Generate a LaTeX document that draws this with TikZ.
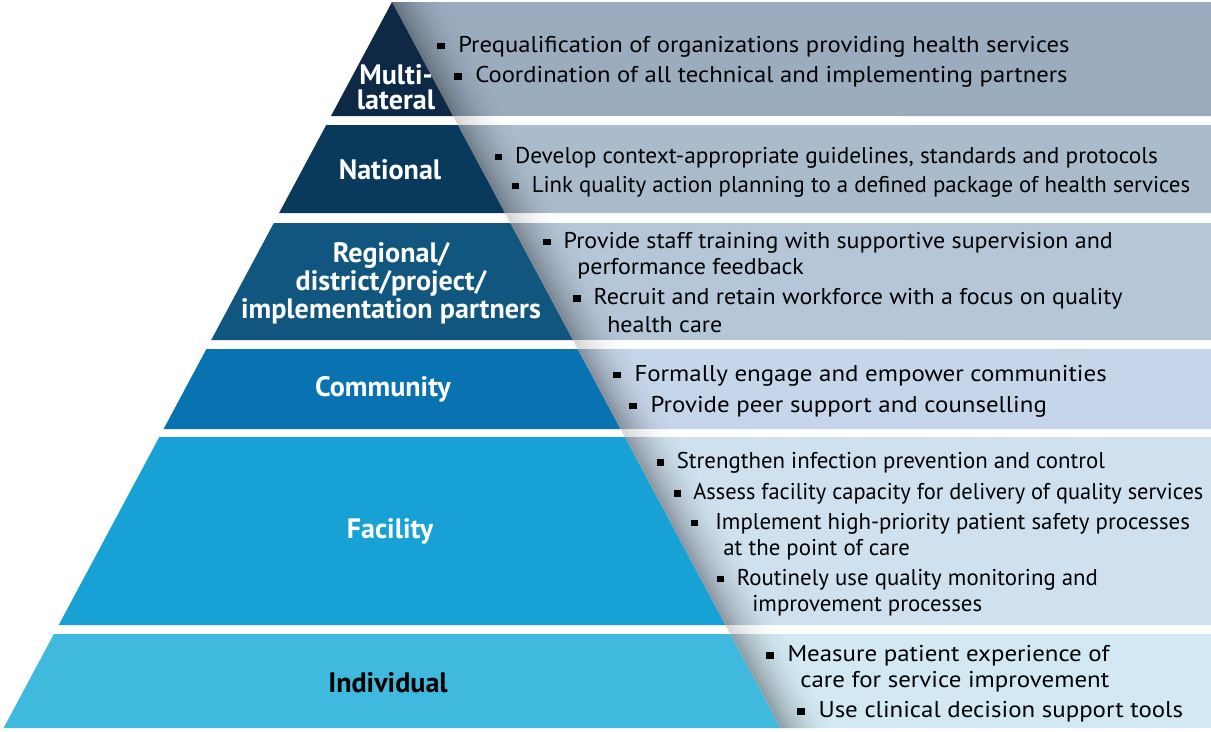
\documentclass[tikz,border=0pt]{standalone}
\usepackage{fontspec}
\usepackage{graphicx}
\setmainfont{PT Sans}
\usetikzlibrary{calc}

\definecolor{bandA}{RGB}{13,41,69}
\definecolor{bandB}{RGB}{9,58,92}
\definecolor{bandC}{RGB}{16,86,127}
\definecolor{bandD}{RGB}{8,115,176}
\definecolor{bandE}{RGB}{23,161,213}
\definecolor{bandF}{RGB}{64,185,222}
\definecolor{paneA}{RGB}{154,172,190}
\definecolor{paneB}{RGB}{170,187,204}
\definecolor{paneC}{RGB}{181,198,216}
\definecolor{paneD}{RGB}{198,214,234}
\definecolor{paneE}{RGB}{207,225,239}
\definecolor{paneF}{RGB}{210,233,243}

\newcommand{\sqb}{\rule[0.14em]{0.3em}{0.3em}\hspace{0.55em}}
% horizontally stretched line of text
\newcommand{\wline}[2]{\scalebox{#1}[1]{#2}}

\begin{document}
\begin{tikzpicture}[x=0.02cm,y=-0.02cm,
  lab/.style={font=\bfseries\fontsize{16}{16}\selectfont, text=white, align=center, inner sep=0pt},
  item/.style={anchor=west, font=\fontsize{13}{14}\selectfont, inner sep=0pt}]
\useasboundingbox (0,0) rectangle (1211,731);

% panels right of the pyramid
\fill[paneA] (392,2) -- (1211,2) -- (1211,116) -- (453,116) -- cycle;
\fill[paneB] (457.8,125) -- (1211,125) -- (1211,213) -- (504.9,213) -- cycle;
\fill[paneC] (510.2,223) -- (1211,223) -- (1211,340) -- (572.8,340) -- cycle;
\fill[paneD] (577.6,349) -- (1211,349) -- (1211,429) -- (620.4,429) -- cycle;
\fill[paneE] (624.7,437) -- (1211,437) -- (1211,625) -- (725.3,625) -- cycle;
\fill[paneF] (730.1,634) -- (1211,634) -- (1211,728) -- (780.4,728) -- cycle;

% shadow along the slope
\foreach \i in {0,...,13} {
  \pgfmathsetmacro\op{0.3*(1-\i/14)^2}
  \fill[black, opacity=\op] (392+4*\i,2) -- (396+4*\i,2) -- (784.4+4*\i,728) -- (780.4+4*\i,728) -- cycle;
}
% lighter shadow in the gaps
\foreach \ya/\yb in {116/125, 213/223, 340/349, 429/437, 625/634}
  \fill[white, opacity=.5] (300,\ya) rectangle (900,\yb);

% pyramid bands
\fill[bandA] (392,2) -- (453,116) -- (331,116) -- cycle;
\fill[bandB] (326.2,125) -- (457.8,125) -- (504.9,213) -- (279.1,213) -- cycle;
\fill[bandC] (273.8,223) -- (510.2,223) -- (572.8,340) -- (211.2,340) -- cycle;
\fill[bandD] (206.4,349) -- (577.6,349) -- (620.4,429) -- (163.6,429) -- cycle;
\fill[bandE] (159.3,437) -- (624.7,437) -- (725.3,625) -- (58.7,625) -- cycle;
\fill[bandF] (53.9,634) -- (730.1,634) -- (780.4,728) -- (3.6,728) -- cycle;

% level names
\node[lab] (multi) at (396,87) {Multi-\\[-1.5pt]lateral};
\node[lab] (natl) at (390,170) {National};
\node[lab] (regl) at (391,283) {Regional/\\district/project/\\implementation partners};
\node[lab] (comm) at (383,389) {Community};
\node[lab] (facl) at (390,531) {Facility};
\node[lab, text=black] (indv) at (388,683) {Individual};

% actions per level
\node[item] (m1) at (437,47) {\wline{1.08}{\sqb Prequalification of organizations providing health services}};
\node[item] (m2) at (454,77) {\wline{1.08}{\sqb Coordination of all technical and implementing partners}};

\node[item] (n1) at (495,158) {\wline{1.02}{\sqb Develop context-appropriate guidelines, standards and protocols}};
\node[item] (n2) at (512,187) {\wline{1.0}{\sqb Link quality action planning to a defined package of health services}};

\node[item] (r1) at (543,243) {\wline{1.05}{\sqb Provide staff training with supportive supervision and}};
\node[item] (r1b) at (577,269) {\wline{1.05}{performance feedback}};
\node[item] (r2) at (573,299) {\wline{1.05}{\sqb Recruit and retain workforce with a focus on quality}};
\node[item] (r2b) at (607,325) {\wline{1.05}{health care}};

\node[item] (c1) at (613,376) {\wline{1.09}{\sqb Formally engage and empower communities}};
\node[item] (c2) at (629,407) {\wline{1.09}{\sqb Provide peer support and counselling}};

\node[item] (f1) at (657,463) {\sqb Strengthen infection prevention and control};
\node[item] (f2) at (674,494) {\wline{0.98}{\sqb Assess facility capacity for delivery of quality services}};
\node[item] (f3) at (691,524) {\sqb\hspace{0.2em}Implement high-priority patient safety processes};
\node[item] (f3b) at (723,550) {at the point of care};
\node[item] (f4) at (717,580) {\sqb Routinely use quality monitoring and};
\node[item] (f4b) at (752,606) {improvement processes};

\node[item] (i1) at (766,656) {\wline{1.09}{\sqb Measure patient experience of}};
\node[item] (i1b) at (800,682) {\wline{1.09}{care for service improvement}};
\node[item] (i2) at (797,712) {\wline{1.09}{\sqb Use clinical decision support tools}};
\end{tikzpicture}
\end{document}
